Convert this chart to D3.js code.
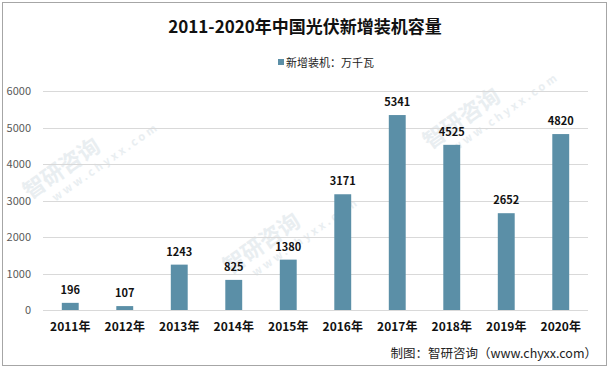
<!DOCTYPE html>
<html lang="zh">
<head>
<meta charset="UTF-8">
<script src="https://cdnjs.cloudflare.com/ajax/libs/d3/7.8.5/d3.min.js"></script>
<style>
  body { margin: 0; background: #fff; }
  svg { display: block; font-family: "Microsoft YaHei", "Noto Sans CJK SC", sans-serif; }
</style>
</head>
<body>
<div id="chart"></div>
<script>
const years = ['2011年','2012年','2013年','2014年','2015年','2016年','2017年','2018年','2019年','2020年'];
const added = [196, 107, 1243, 825, 1380, 3171, 5341, 4525, 2652, 4820];
const yTicks = [0, 1000, 2000, 3000, 4000, 5000, 6000];
const title = '2011-2020年中国光伏新增装机容量';
const legendLabel = '新增装机：万千瓦';
const source = '制图：智研咨询（www.chyxx.com）';

const W = 610, H = 369;
const svg = d3.select('#chart').append('svg').attr('width', W).attr('height', H);

svg.append('rect').attr('x', 2.5).attr('y', 2.5).attr('width', W - 6).attr('height', H - 6)
  .attr('fill', '#fff').attr('stroke', '#a6a6a6');

// faint watermarks
const wm = svg.append('g').attr('fill', '#e9eef1').attr('font-weight', 'bold');
[[30, 200], [230, 275], [430, 150]].forEach(p => {
  const g = wm.append('g').attr('transform', `translate(${p[0]},${p[1]}) rotate(-35)`);
  g.append('text').attr('font-size', 22).text('智研咨询');
  g.append('text').attr('y', 16).attr('x', 20).attr('font-size', 11).attr('letter-spacing', 3).text('www.chyxx.com');
});

const x = d3.scaleBand().domain(years).range([43, 588]).paddingInner(0.69).paddingOuter(0.345);
const y = d3.scaleLinear().domain([0, 6000]).range([310, 91]);

svg.append('g').selectAll('line').data(yTicks).enter().append('line')
  .attr('x1', 43).attr('x2', 588)
  .attr('y1', d => Math.round(y(d)) + 0.5).attr('y2', d => Math.round(y(d)) + 0.5)
  .attr('stroke', '#d9d9d9');

svg.append('g').selectAll('text').data(yTicks).enter().append('text')
  .attr('x', 31).attr('y', d => y(d) + 4).attr('text-anchor', 'end')
  .attr('font-size', 11).attr('fill', '#595959').text(d => d);

svg.append('g').selectAll('rect').data(added).enter().append('rect')
  .attr('x', (d, i) => x(years[i])).attr('width', x.bandwidth())
  .attr('y', d => y(d)).attr('height', d => y(0) - y(d))
  .attr('fill', '#5b8fa7');

svg.append('g').selectAll('text').data(added).enter().append('text')
  .attr('x', (d, i) => x(years[i]) + x.bandwidth() / 2).attr('y', d => y(d) - 9)
  .attr('text-anchor', 'middle').attr('font-size', 11).attr('font-weight', 'bold')
  .attr('fill', '#111').text(d => d);

svg.append('g').selectAll('text').data(years).enter().append('text')
  .attr('x', d => x(d) + x.bandwidth() / 2).attr('y', 331)
  .attr('text-anchor', 'middle').attr('font-size', 12).attr('font-weight', 'bold')
  .attr('fill', '#111').text(d => d);

svg.append('text').attr('x', 305).attr('y', 33).attr('text-anchor', 'middle')
  .attr('font-size', 17).attr('font-weight', 'bold').attr('fill', '#111').text(title);

svg.append('rect').attr('x', 278).attr('y', 59).attr('width', 6).attr('height', 6).attr('fill', '#5b8fa7');
svg.append('text').attr('x', 286).attr('y', 67).attr('font-size', 11).attr('fill', '#222').text(legendLabel);

svg.append('text').attr('x', 597).attr('y', 358).attr('text-anchor', 'end')
  .attr('font-size', 12.5).attr('fill', '#222').text(source);
</script>
</body>
</html>
